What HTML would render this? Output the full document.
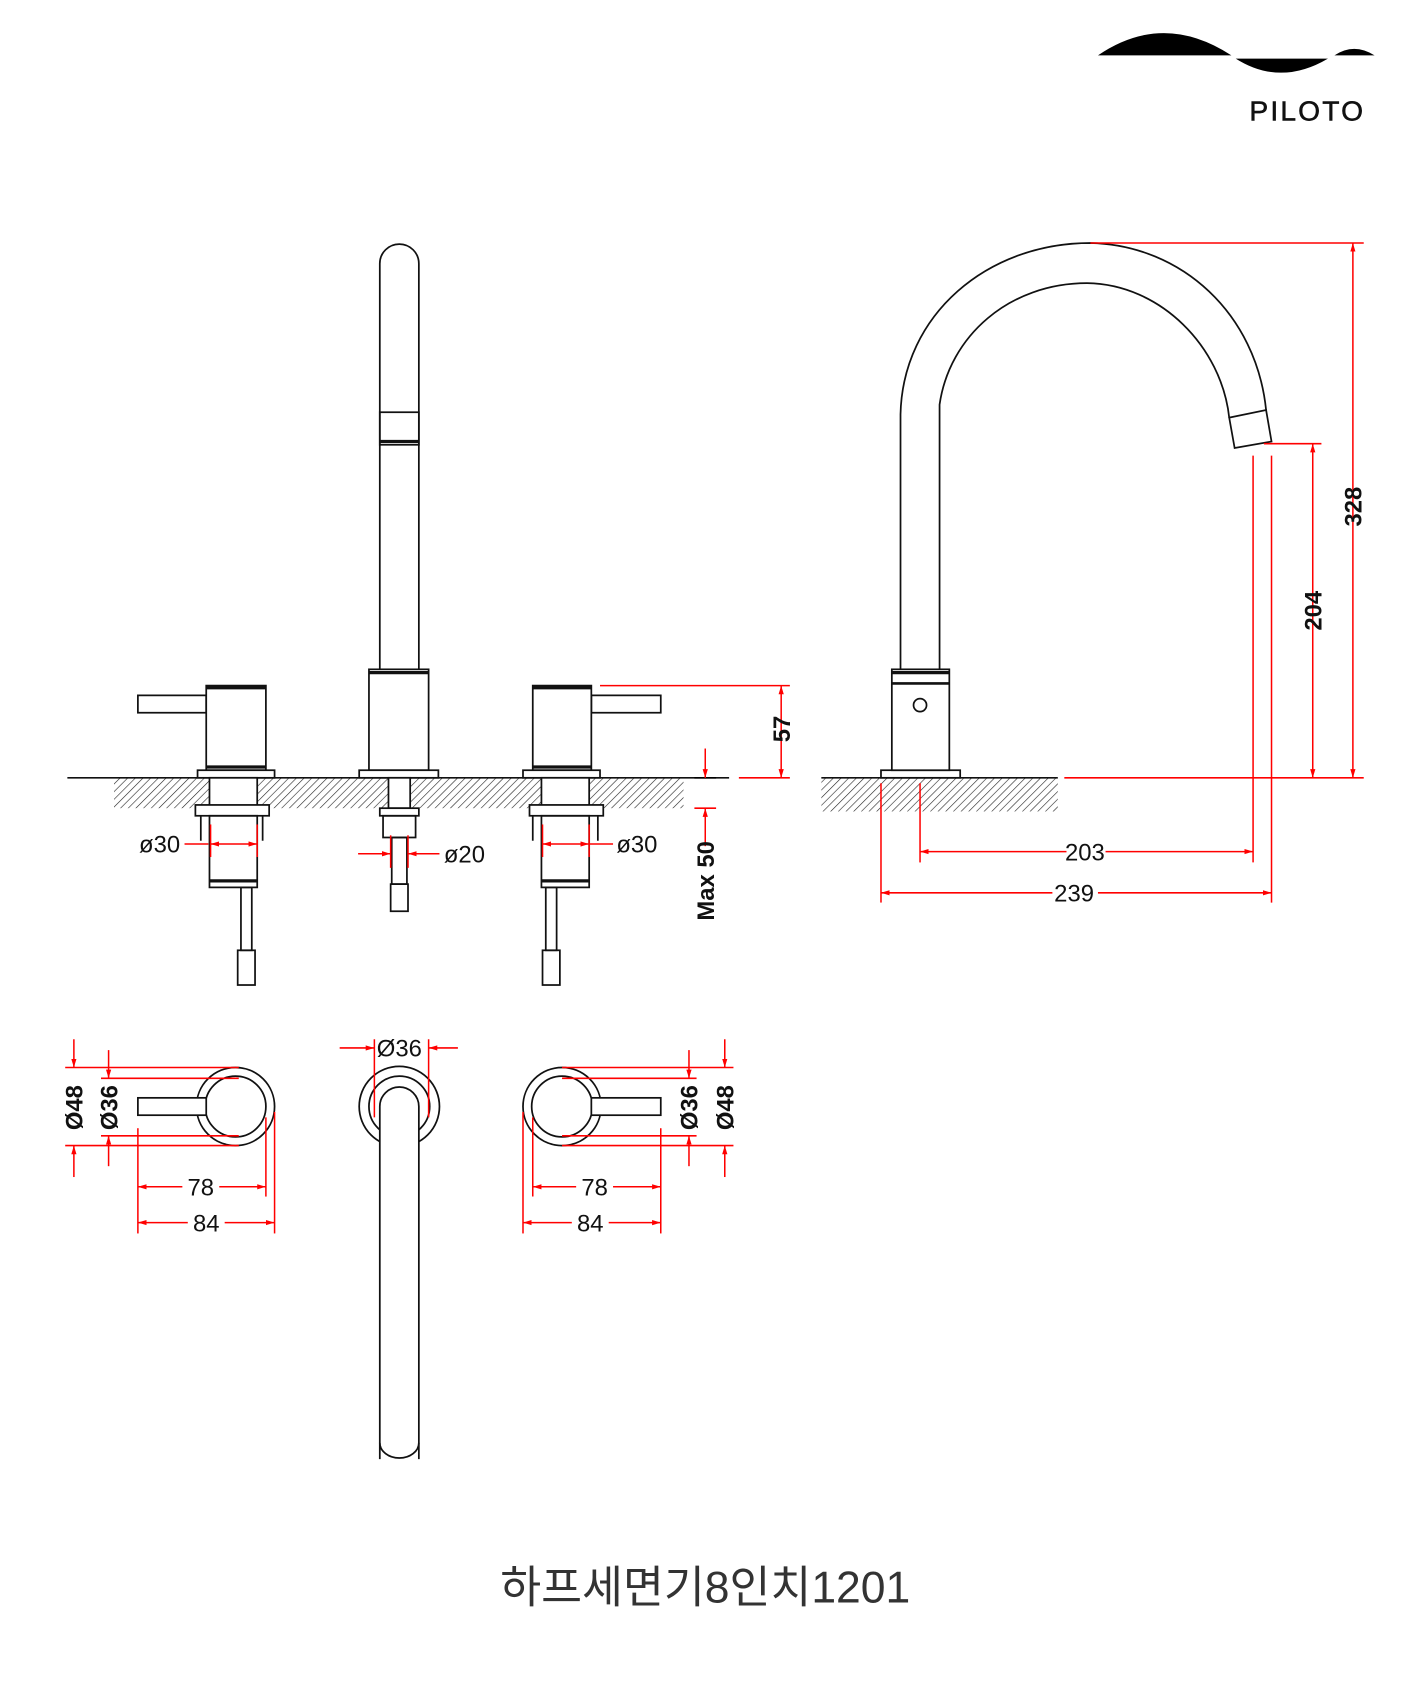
<!DOCTYPE html>
<html><head><meta charset="utf-8"><style>
html,body{margin:0;padding:0;background:#fff;}
svg{display:block;}
</style></head><body>
<svg width="1417" height="1701" viewBox="0 0 1306 1568" xmlns="http://www.w3.org/2000/svg" font-family="Liberation Sans, sans-serif">
<defs>
<pattern id="h" width="5" height="5" patternUnits="userSpaceOnUse" patternTransform="rotate(45)">
<line x1="0" y1="0" x2="0" y2="5" stroke="#222" stroke-width="1.1"/>
</pattern>
<marker id="a" viewBox="0 0 10 6" refX="10" refY="3" markerWidth="8" markerHeight="5" orient="auto-start-reverse" markerUnits="userSpaceOnUse"><path d="M0,0 L10,3 L0,6z" fill="#f00"/></marker>
</defs>
<rect width="1306" height="1568" fill="#fff"/>
<!-- logo -->
<path d="M1012,51 Q1072,10 1135,51 Z" fill="#000"/>
<path d="M1139,54 L1224,54 Q1180,80 1139,54 Z" fill="#000"/>
<path d="M1230,51 Q1248,39 1267,51 Z" fill="#000"/>
<text x="1205" y="111" font-size="26" text-anchor="middle" letter-spacing="2" fill="#111" stroke="#111" stroke-width="0.5">PILOTO</text>

<g fill="none" stroke="#111" stroke-width="1.6">
<!-- floor -->
<rect x="105" y="717" width="525" height="28" fill="url(#h)" stroke="none"/>
<line x1="62" y1="717" x2="672" y2="717"/>
<rect x="757" y="717" width="218" height="31" fill="url(#h)" stroke="none"/>
<line x1="757" y1="717" x2="975" y2="717"/>
<!-- left valve -->
<rect x="127" y="641" width="63" height="16" fill="#fff"/>
<rect x="190" y="632" width="55" height="78" fill="#fff"/>
<line x1="190" y1="634" x2="245" y2="634" stroke-width="3"/>
<line x1="190" y1="707" x2="245" y2="707" stroke-width="3"/>
<rect x="182" y="710" width="71" height="7" fill="#fff"/>
<rect x="193" y="717" width="44" height="28" fill="#fff"/>
<rect x="180" y="742" width="68" height="10" fill="#fff"/>
<line x1="185" y1="752" x2="185" y2="775"/><line x1="242" y1="752" x2="242" y2="775"/>
<rect x="193" y="752" width="44" height="66"/>
<line x1="193" y1="812" x2="237" y2="812" stroke-width="3"/>
<rect x="222" y="818" width="10" height="58"/>
<rect x="219" y="876" width="16" height="32"/>
<!-- right valve -->
<rect x="545" y="641" width="64" height="16" fill="#fff"/>
<rect x="491" y="632" width="54" height="78" fill="#fff"/>
<line x1="491" y1="634" x2="545" y2="634" stroke-width="3"/>
<line x1="491" y1="707" x2="545" y2="707" stroke-width="3"/>
<rect x="482" y="710" width="71" height="7" fill="#fff"/>
<rect x="499" y="717" width="44" height="28" fill="#fff"/>
<rect x="488" y="742" width="68" height="10" fill="#fff"/>
<line x1="491" y1="752" x2="491" y2="775"/><line x1="551" y1="752" x2="551" y2="775"/>
<rect x="499" y="752" width="44" height="66"/>
<line x1="499" y1="812" x2="543" y2="812" stroke-width="3"/>
<rect x="503" y="818" width="10" height="58"/>
<rect x="500" y="876" width="16" height="32"/>
<!-- center spout -->
<path d="M350,617 L350,243 A18,18 0 0 1 386,243 L386,617"/>
<rect x="350" y="380" width="36" height="30" fill="none"/>
<line x1="350" y1="407" x2="386" y2="407" stroke-width="3"/>
<rect x="340" y="617" width="55" height="93" fill="#fff"/>
<line x1="340" y1="620" x2="395" y2="620" stroke-width="3"/>
<rect x="331" y="710" width="73" height="7" fill="#fff"/>
<rect x="358" y="717" width="20" height="28" fill="#fff"/>
<rect x="350" y="745" width="36" height="7" fill="#fff"/>
<rect x="353" y="752" width="30" height="20"/>
<rect x="361" y="772" width="14" height="43"/>
<rect x="360" y="815" width="16" height="25"/>
<!-- side view -->
<rect x="812" y="710" width="73" height="7" fill="#fff"/>
<rect x="822" y="617" width="53" height="93" fill="#fff"/>
<line x1="822" y1="620" x2="875" y2="620" stroke-width="3"/>
<line x1="822" y1="630" x2="875" y2="630" stroke-width="2.5"/>
<circle cx="848" cy="650" r="6"/>
<path d="M830,617 L830,382 C832,290 910,224 1005,224 C1090,226 1158,290 1167,378"/>
<path d="M866,617 L866,373 C875,310 930,261 1002,261 C1070,262 1126,320 1133,385"/>
<path d="M1133,385 L1167,378 L1172,407 L1138,413 Z"/>
<!-- top views -->
<circle cx="217" cy="1020" r="36"/><circle cx="217" cy="1020" r="28"/>
<rect x="127" y="1012" width="63" height="16" fill="#fff"/>
<circle cx="518" cy="1020" r="36"/><circle cx="518" cy="1020" r="28"/>
<rect x="545" y="1012" width="64" height="16" fill="#fff"/>
<circle cx="368" cy="1020" r="37"/><circle cx="368" cy="1020" r="28"/>
<path d="M350,1345 L350,1020 A18,18 0 0 1 386,1020 L386,1345" fill="#fff"/>
<path d="M350,1330 A18,14 0 0 0 386,1330"/>
</g>

<g stroke="#f00" stroke-width="1.4" fill="none">
<line x1="553" y1="632" x2="728" y2="632"/>
<line x1="720" y1="632" x2="720" y2="717" marker-start="url(#a)" marker-end="url(#a)"/>
<line x1="681" y1="717" x2="728" y2="717"/>
<line x1="640" y1="717" x2="660" y2="717" stroke="#000"/>
<line x1="650" y1="690" x2="650" y2="717" marker-end="url(#a)"/>
<line x1="650" y1="780" x2="650" y2="745" marker-end="url(#a)"/>
<line x1="640" y1="745" x2="660" y2="745"/>
<line x1="170" y1="778" x2="192" y2="778"/><line x1="194" y1="778" x2="237" y2="778" marker-start="url(#a)" marker-end="url(#a)"/>
<line x1="194" y1="760" x2="194" y2="790"/><line x1="237" y1="760" x2="237" y2="790"/>
<line x1="330" y1="787" x2="360" y2="787" marker-end="url(#a)"/>
<line x1="405" y1="787" x2="376" y2="787" marker-end="url(#a)"/>
<line x1="360" y1="770" x2="360" y2="800"/><line x1="376" y1="770" x2="376" y2="800"/>
<line x1="500" y1="778" x2="543" y2="778" marker-start="url(#a)" marker-end="url(#a)"/><line x1="543" y1="778" x2="565" y2="778"/>
<line x1="500" y1="760" x2="500" y2="790"/><line x1="543" y1="760" x2="543" y2="790"/>
<line x1="1005" y1="224" x2="1257" y2="224"/>
<line x1="1247" y1="224" x2="1247" y2="717" marker-start="url(#a)" marker-end="url(#a)"/>
<line x1="1165" y1="409" x2="1218" y2="409"/>
<line x1="1210" y1="409" x2="1210" y2="717" marker-start="url(#a)" marker-end="url(#a)"/>
<line x1="981" y1="717" x2="1257" y2="717"/>
<line x1="1155" y1="420" x2="1155" y2="795"/>
<line x1="1172" y1="420" x2="1172" y2="832"/>
<line x1="812" y1="722" x2="812" y2="832"/>
<line x1="848" y1="722" x2="848" y2="795"/>
<line x1="848" y1="785" x2="1155" y2="785" marker-start="url(#a)" marker-end="url(#a)"/>
<line x1="812" y1="823" x2="1172" y2="823" marker-start="url(#a)" marker-end="url(#a)"/>
<line x1="60" y1="984" x2="220" y2="984"/><line x1="60" y1="1056" x2="220" y2="1056"/>
<line x1="93" y1="994" x2="220" y2="994"/><line x1="93" y1="1047" x2="220" y2="1047"/>
<line x1="68" y1="958" x2="68" y2="984" marker-end="url(#a)"/><line x1="68" y1="1085" x2="68" y2="1056" marker-end="url(#a)"/>
<line x1="100" y1="968" x2="100" y2="994" marker-end="url(#a)"/><line x1="100" y1="1075" x2="100" y2="1047" marker-end="url(#a)"/>
<line x1="127" y1="1040" x2="127" y2="1137"/><line x1="245" y1="1030" x2="245" y2="1103"/><line x1="253" y1="1025" x2="253" y2="1137"/>
<line x1="127" y1="1094" x2="245" y2="1094" marker-start="url(#a)" marker-end="url(#a)"/>
<line x1="127" y1="1127" x2="253" y2="1127" marker-start="url(#a)" marker-end="url(#a)"/>
<line x1="518" y1="984" x2="676" y2="984"/><line x1="518" y1="1056" x2="676" y2="1056"/>
<line x1="518" y1="994" x2="642" y2="994"/><line x1="518" y1="1047" x2="642" y2="1047"/>
<line x1="668" y1="958" x2="668" y2="984" marker-end="url(#a)"/><line x1="668" y1="1085" x2="668" y2="1056" marker-end="url(#a)"/>
<line x1="635" y1="968" x2="635" y2="994" marker-end="url(#a)"/><line x1="635" y1="1075" x2="635" y2="1047" marker-end="url(#a)"/>
<line x1="482" y1="1025" x2="482" y2="1137"/><line x1="491" y1="1030" x2="491" y2="1103"/><line x1="609" y1="1040" x2="609" y2="1137"/>
<line x1="491" y1="1094" x2="609" y2="1094" marker-start="url(#a)" marker-end="url(#a)"/>
<line x1="482" y1="1127" x2="609" y2="1127" marker-start="url(#a)" marker-end="url(#a)"/>
<line x1="345" y1="958" x2="345" y2="1030"/><line x1="395" y1="958" x2="395" y2="1030"/>
<line x1="313" y1="966" x2="345" y2="966" marker-end="url(#a)"/>
<line x1="422" y1="966" x2="395" y2="966" marker-end="url(#a)"/>
</g>

<g fill="#111" font-size="22">
<rect x="983" y="773" width="36" height="24" fill="#fff"/>
<text x="1000" y="793" text-anchor="middle">203</text>
<rect x="970" y="811" width="42" height="24" fill="#fff"/>
<text x="990" y="831" text-anchor="middle">239</text>
<text x="147" y="786" text-anchor="middle">ø30</text>
<text x="428" y="795" text-anchor="middle">ø20</text>
<text x="587" y="786" text-anchor="middle">ø30</text>
<rect x="168" y="1082" width="34" height="24" fill="#fff"/>
<text x="185" y="1102" text-anchor="middle">78</text>
<rect x="173" y="1115" width="34" height="24" fill="#fff"/>
<text x="190" y="1135" text-anchor="middle">84</text>
<rect x="531" y="1082" width="34" height="24" fill="#fff"/>
<text x="548" y="1102" text-anchor="middle">78</text>
<rect x="527" y="1115" width="34" height="24" fill="#fff"/>
<text x="544" y="1135" text-anchor="middle">84</text>
<text x="368" y="974" text-anchor="middle">Ø36</text>
<g font-weight="bold">
<text transform="translate(728,672) rotate(-90)" text-anchor="middle">57</text>
<text transform="translate(658,812) rotate(-90)" text-anchor="middle">Max 50</text>
<text transform="translate(1255,467) rotate(-90)" text-anchor="middle">328</text>
<text transform="translate(1218,563) rotate(-90)" text-anchor="middle">204</text>
<text transform="translate(76,1021) rotate(-90)" text-anchor="middle">Ø48</text>
<text transform="translate(108,1021) rotate(-90)" text-anchor="middle">Ø36</text>
<text transform="translate(643,1021) rotate(-90)" text-anchor="middle">Ø36</text>
<text transform="translate(676,1021) rotate(-90)" text-anchor="middle">Ø48</text>
</g>
</g>
<text x="650" y="1477" font-size="41" text-anchor="middle" fill="#333" font-family="Liberation Sans, Noto Sans CJK KR, sans-serif">하프세면기8인치1201</text>
</svg>
</body></html>
